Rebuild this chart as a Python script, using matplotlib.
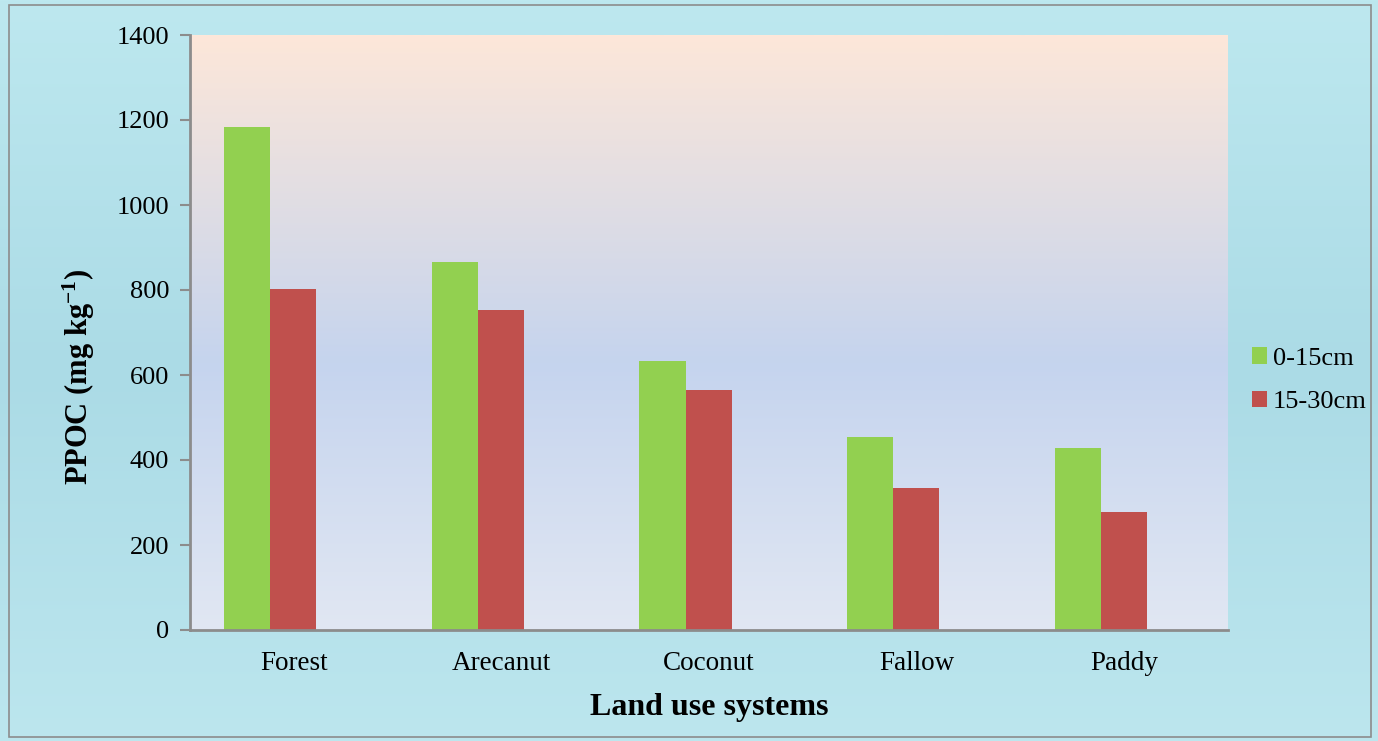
import numpy as np
import matplotlib
matplotlib.use("Agg")
import matplotlib.pyplot as plt
from matplotlib.colors import LinearSegmentedColormap
from matplotlib.patches import Rectangle

# data
land_use = ["Forest", "Arecanut", "Coconut", "Fallow", "Paddy"]
depth_0_15 = [1183, 866, 633, 454, 428]
depth_15_30 = [802, 754, 565, 334, 278]
series_names = ["0-15cm", "15-30cm"]
yticks = [0, 200, 400, 600, 800, 1000, 1200, 1400]

plt.rcParams['font.family'] = ['Liberation Serif', 'DejaVu Serif']
plt.rcParams['mathtext.fontset'] = 'custom'
plt.rcParams['mathtext.rm'] = 'Liberation Serif'
plt.rcParams['mathtext.bf'] = 'Liberation Serif:bold'

fig = plt.figure(figsize=(13.78, 7.41), dpi=100)

# water-ish backdrop
bg = fig.add_axes([0, 0, 1, 1], zorder=-10)
bg_cmap = LinearSegmentedColormap.from_list("bg", ["#bde8ef", "#abdbe6", "#bce6ee"])
bg.imshow(np.linspace(0, 1, 256).reshape(-1, 1), aspect="auto", cmap=bg_cmap,
          extent=[0, 1, 0, 1])
bg.set_xlim(0, 1)
bg.set_ylim(0, 1)
bg.axis("off")
bg.add_patch(Rectangle((9 / 1378, 4 / 741), 1362 / 1378, 732 / 741, fill=False,
                       edgecolor="#8c8c8c", linewidth=1.2))

ax = fig.add_axes([190 / 1378, 1 - 630 / 741, 1038 / 1378, 595 / 741])

# plot area gradient (peach top -> blue middle -> pale bottom)
pa_cmap = LinearSegmentedColormap.from_list(
    "pa", [(0, "#e1e7f3"), (0.45, "#c5d4ee"), (1, "#fde7d9")])
ax.imshow(np.linspace(0, 1, 256).reshape(-1, 1), aspect="auto", cmap=pa_cmap,
          origin="lower", extent=[-0.5, len(land_use) - 0.5, 0, 1400], zorder=0)

x = np.arange(len(land_use))
w = 0.222
# pair sits left of the category centre, as in the original
ax.bar(x - w - 0.002, depth_0_15, w, color="#92d050", label=series_names[0], zorder=2)
ax.bar(x - 0.002, depth_15_30, w, color="#c0504d", label=series_names[1], zorder=2)

ax.set_xlim(-0.5, len(land_use) - 0.5)
ax.set_ylim(0, 1400)
ax.set_yticks(yticks)
ax.set_xticks(x)
ax.set_xticklabels(land_use)
ax.tick_params(axis="y", labelsize=19, length=7, color="#8c8c8c", width=1.5, pad=8)
ax.tick_params(axis="x", labelsize=19.5, length=0, pad=15)

for s in ["top", "right"]:
    ax.spines[s].set_visible(False)
for s in ["left", "bottom"]:
    ax.spines[s].set_color("#8c8c8c")
    ax.spines[s].set_linewidth(2)

ax.set_xlabel("Land use systems", fontsize=23, fontweight="bold", labelpad=12)
ax.set_ylabel(r"PPOC (mg kg$\mathbf{^{-1}}$)", fontsize=22, fontweight="bold")
ax.yaxis.set_label_coords(-0.090, 0.425)

ax.legend(loc="center left", bbox_to_anchor=(1.005, 0.42), frameon=False, fontsize=19,
          handlelength=0.6, handleheight=0.6, handletextpad=0.2, labelspacing=0.8,
          borderaxespad=0.3)

plt.savefig("out.png", dpi=100)
